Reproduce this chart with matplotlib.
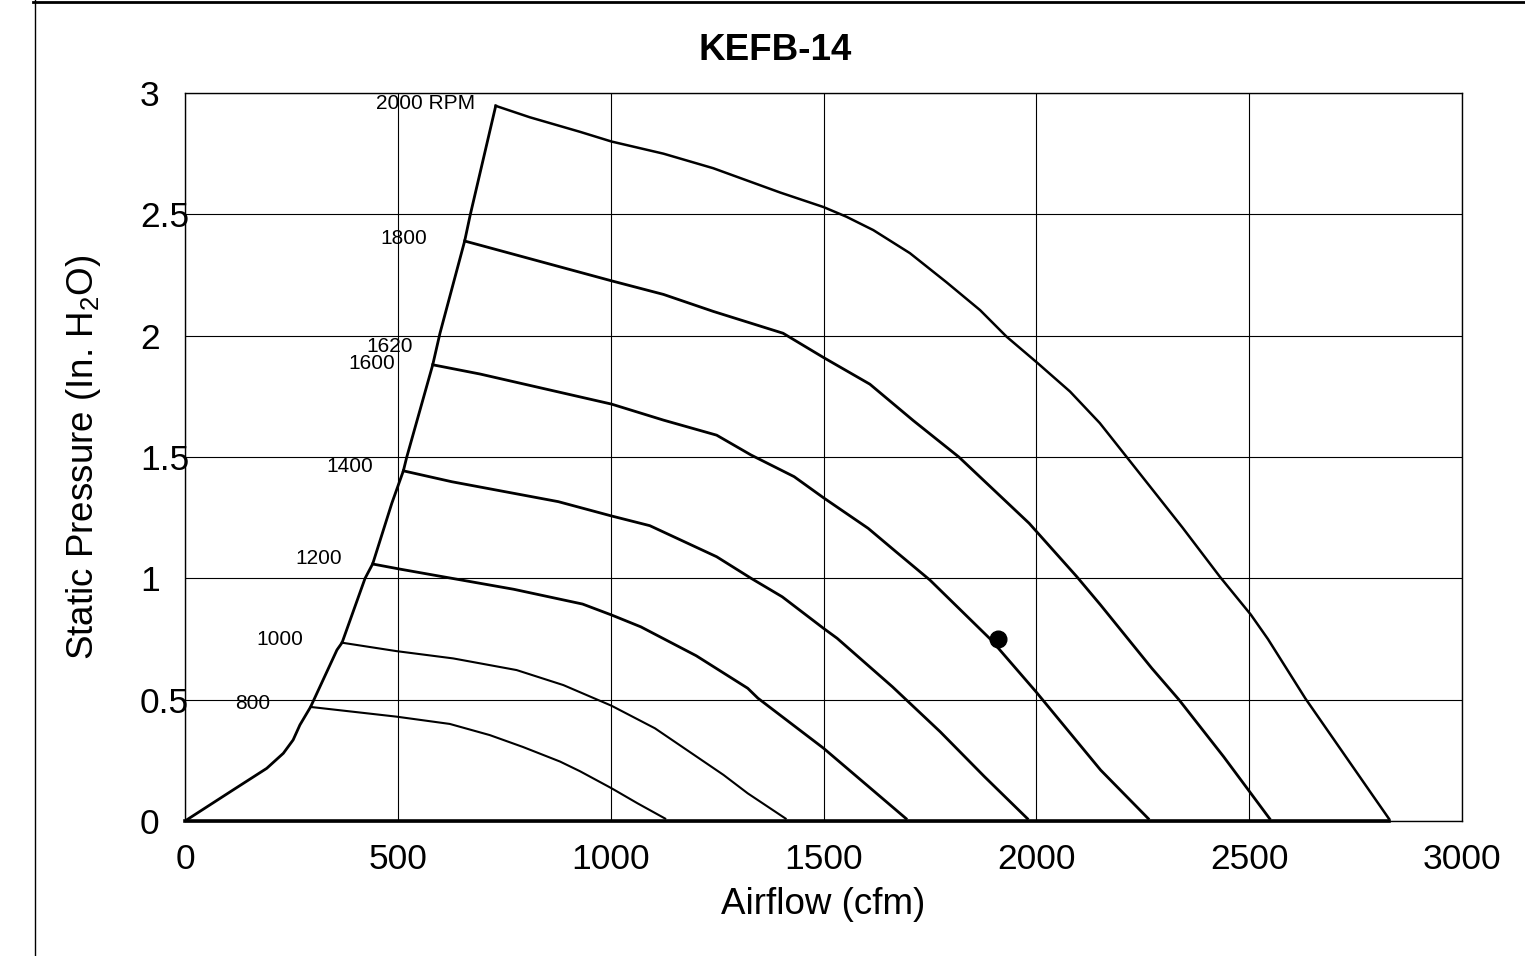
import matplotlib
matplotlib.use('Agg')
import matplotlib.pyplot as plt
from matplotlib.lines import Line2D

plt.rcParams['font.family'] = ['Liberation Sans', 'DejaVu Sans']
plt.rcParams['mathtext.fontset'] = 'custom'
plt.rcParams['mathtext.rm'] = 'Liberation Sans'
plt.rcParams['mathtext.it'] = 'Liberation Sans:italic'

# fan curves: airflow (cfm) vs static pressure (in. H2O)
rpm800_cfm  = [295, 497, 622, 716, 794, 881, 928, 1002, 1063, 1128]
rpm800_sp   = [0.47, 0.43, 0.40, 0.354, 0.305, 0.245, 0.205, 0.135, 0.073, 0.01]

rpm1000_cfm = [368, 497, 630, 779, 889, 1002, 1104, 1265, 1322, 1411]
rpm1000_sp  = [0.735, 0.70, 0.67, 0.622, 0.56, 0.475, 0.382, 0.19, 0.114, 0.01]

rpm1200_cfm = [441, 505, 627, 772, 934, 1002, 1071, 1201, 1322, 1346, 1500, 1694]
rpm1200_sp  = [1.059, 1.038, 1.0, 0.955, 0.894, 0.849, 0.80, 0.681, 0.547, 0.506, 0.30, 0.01]

rpm1400_cfm = [513, 627, 877, 1002, 1092, 1249, 1330, 1403, 1500, 1532, 1662, 1774, 1878, 1979]
rpm1400_sp  = [1.443, 1.398, 1.316, 1.257, 1.217, 1.089, 1.0, 0.924, 0.794, 0.753, 0.553, 0.368, 0.183, 0.01]

rpm1600_cfm = [582, 693, 1002, 1124, 1249, 1330, 1431, 1500, 1605, 1670, 1750, 1894, 1999, 2151, 2263]
rpm1600_sp  = [1.88, 1.842, 1.718, 1.652, 1.59, 1.508, 1.419, 1.332, 1.206, 1.11, 0.993, 0.746, 0.533, 0.21, 0.01]

rpm1800_cfm = [657, 693, 1002, 1124, 1241, 1405, 1500, 1609, 1711, 1818, 1983, 2095, 2151, 2271, 2335, 2440, 2548]
rpm1800_sp  = [2.39, 2.373, 2.226, 2.17, 2.10, 2.01, 1.91, 1.80, 1.65, 1.50, 1.227, 1.007, 0.89, 0.63, 0.50, 0.265, 0.01]

rpm2000_cfm = [730, 810, 928, 1002, 1124, 1241, 1398, 1500, 1554, 1617, 1703, 1789, 1868,
               1930, 2001, 2079, 2149, 2210, 2343, 2431, 2504, 2544, 2632, 2828]
rpm2000_sp  = [2.947, 2.90, 2.84, 2.80, 2.75, 2.69, 2.59, 2.53, 2.49, 2.435, 2.34, 2.22, 2.105,
               1.996, 1.89, 1.77, 1.64, 1.505, 1.21, 1.007, 0.85, 0.75, 0.505, 0.01]

# system / surge boundary on the left
limit_cfm = [0, 113, 192, 231, 254, 270, 295, 357, 369, 423, 441, 486, 513, 521, 582, 599, 657, 670, 730]
limit_sp  = [0, 0.128, 0.217, 0.279, 0.334, 0.396, 0.47, 0.705, 0.735, 1.0, 1.06, 1.31, 1.443, 1.50,
             1.88, 2.01, 2.39, 2.497, 2.947]

base_cfm = [0, 2828]
base_sp  = [0, 0]

op_cfm = [1910]
op_sp  = [0.75]

curves = [
    ('800',      rpm800_cfm,  rpm800_sp,  1.5),
    ('1000',     rpm1000_cfm, rpm1000_sp, 1.5),
    ('1200',     rpm1200_cfm, rpm1200_sp, 2.0),
    ('1400',     rpm1400_cfm, rpm1400_sp, 2.0),
    ('1600',     rpm1600_cfm, rpm1600_sp, 2.0),
    ('1800',     rpm1800_cfm, rpm1800_sp, 2.0),
    ('2000 RPM', rpm2000_cfm, rpm2000_sp, 1.8),
]
# label offsets (points) from each curve's first point
label_off = {
    '800': (-29, 2.5), '1000': (-28, 2), '1200': (-22, 4.3), '1400': (-22, 3),
    '1600': (-27, 1.0), '1800': (-27, 1.5), '2000 RPM': (-15, 1.4),
}

fig = plt.figure(figsize=(15.25, 9.56), dpi=100)
ax = fig.add_axes([185 / 1525, 1 - 821 / 956, 1277 / 1525, 728 / 956])

ax.set_xlim(0, 3000)
ax.set_ylim(0, 3)
ax.set_xticks([0, 500, 1000, 1500, 2000, 2500, 3000])
ax.set_yticks([0, 0.5, 1, 1.5, 2, 2.5, 3])
ax.set_yticklabels(['0', '0.5', '1', '1.5', '2', '2.5', '3'])
ax.grid(True, color='black', linewidth=0.8)
ax.set_axisbelow(True)
for s in ax.spines.values():
    s.set_linewidth(1.0)
ax.tick_params(axis='both', length=0, labelsize=25.5)
ax.tick_params(axis='x', pad=16)
ax.tick_params(axis='y', pad=32.4)
for lab in ax.get_yticklabels():
    lab.set_horizontalalignment('left')

ax.plot(limit_cfm, limit_sp, color='black', lw=2.0, solid_joinstyle='round')
ax.plot(base_cfm, base_sp, color='black', lw=2.6, clip_on=False)
for name, xs, ys, lw in curves:
    ax.plot(xs, ys, color='black', lw=lw, solid_joinstyle='round')
    dx, dy = label_off[name]
    ax.annotate(name, (xs[0], ys[0]), xytext=(dx, dy), textcoords='offset points',
                ha='right', va='center', fontsize=15)
ax.annotate('1620', (rpm1600_cfm[0], rpm1600_sp[0]), xytext=(-14.4, 13.5),
            textcoords='offset points', ha='right', va='center', fontsize=15)

ax.plot(op_cfm, op_sp, 'o', color='black', markersize=12)

ax.set_xlabel('Airflow (cfm)', fontsize=26.5, va='center')
ax.xaxis.set_label_coords(0.5, -(904 - 821) / 728)
ax.set_ylabel(r'Static Pressure (In. H$_\mathregular{2}$O)', fontsize=26.5, va='center')
ax.yaxis.set_label_coords((84 - 185) / 1277, 0.5)

fig.text(775 / 1525, 1 - 50 / 956, 'KEFB-14', ha='center', va='center',
         fontsize=26.5, fontweight='bold')

# page frame lines at left and top
fig.add_artist(Line2D([35 / 1525, 35 / 1525], [0, 1], color='black', lw=1.0))
fig.add_artist(Line2D([33 / 1525, 1], [1 - 1.5 / 956, 1 - 1.5 / 956], color='black', lw=2.0))

fig.savefig('out.png', dpi=100)
